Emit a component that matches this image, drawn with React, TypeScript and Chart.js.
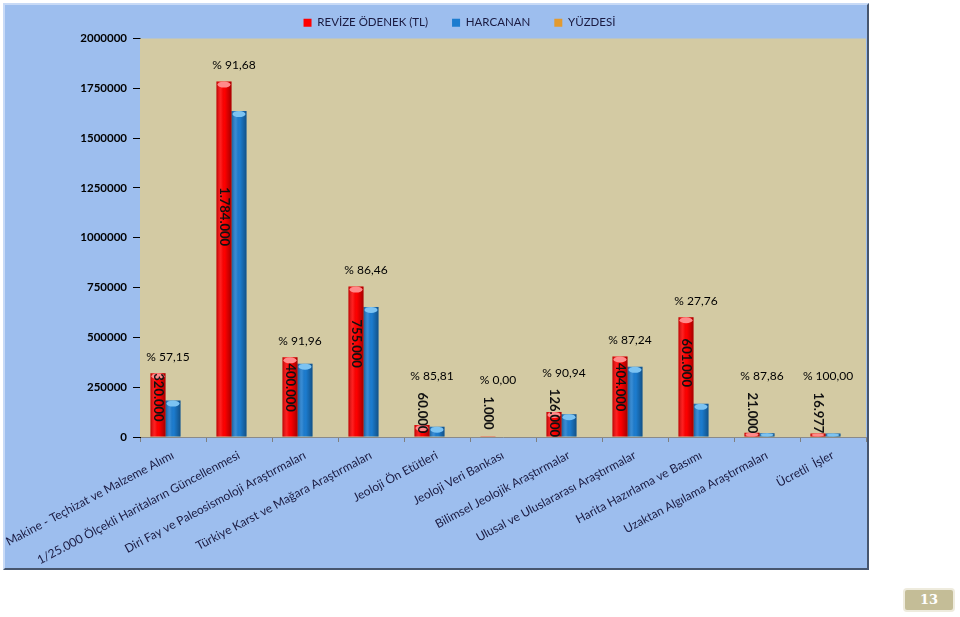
import React, { useEffect, useRef } from "react";
import { Chart, registerables } from "chart.js";

Chart.register(...registerables);

const categories = [
  "Makine - Teçhizat ve Malzeme Alımı",
  "1/25.000 Ölçekli Haritaların Güncellenmesi",
  "Diri Fay ve Paleosismoloji Araştırmaları",
  "Türkiye Karst ve Mağara Araştırmaları",
  "Jeoloji Ön Etütleri",
  "Jeoloji Veri Bankası",
  "Bilimsel Jeolojik Araştırmalar",
  "Ulusal ve Uluslararası Araştırmalar",
  "Harita Hazırlama ve Basımı",
  "Uzaktan Algılama Araştırmaları",
  "Ücretli  İşler",
];
const revizeOdenek = [320000, 1784000, 400000, 755000, 60000, 1000, 126000, 404000, 601000, 21000, 16977];
const harcanan = [182880, 1635571, 367840, 652773, 51486, 0, 114584, 352450, 166838, 18450, 16977];
const yuzdesi = [57.15, 91.68, 91.96, 86.46, 85.81, 0.0, 90.94, 87.24, 27.76, 87.86, 100.0];
const seriesNames = ["REVİZE ÖDENEK (TL)", "HARCANAN", "YÜZDESİ"];
const seriesColors = ["#FF0000", "#1C7CCF", "#E39A2F"];
const yMin = 0;
const yMax = 2000000;
const yStep = 250000;

const FONT = "Lato, 'Open Sans', 'Liberation Sans', sans-serif";

function fmtThousands(v: number): string {
  const s = Math.round(v).toString();
  return s.replace(/\B(?=(\d{3})+(?!\d))/g, ".");
}
function fmtPct(v: number): string {
  return "% " + v.toFixed(2).replace(".", ",");
}

const decorPlugin = {
  id: "decor",
  afterLayout(chart: any) {
    const lg = chart.legend;
    if (lg) {
      lg.left += 24;
      lg.right += 24;
    }
  },
  beforeDatasetsDraw(chart: any) {
    const { ctx, chartArea } = chart;
    ctx.save();
    ctx.fillStyle = "#D3CAA3";
    ctx.fillRect(chartArea.left, chartArea.top, chartArea.right - chartArea.left, chartArea.bottom - chartArea.top);
    ctx.restore();
  },
  afterDatasetsDraw(chart: any) {
    const { ctx } = chart;
    const yScale = chart.scales.y;
    const xScale = chart.scales.x;
    const axisY = yScale.getPixelForValue(0);
    ctx.save();
    const caps = ["#FF8A8A", "#7CC3F2"];
    [0, 1].forEach((di) => {
      const meta = chart.getDatasetMeta(di);
      meta.data.forEach((bar: any) => {
        const w = bar.width;
        const l = bar.x - w / 2;
        const top = Math.min(bar.y, bar.base);
        const h = Math.abs(bar.base - bar.y);
        if (h < 0.5) return;
        const g = ctx.createLinearGradient(l, 0, l + w, 0);
        g.addColorStop(0, "rgba(0,0,0,0.28)");
        g.addColorStop(0.3, "rgba(255,255,255,0.12)");
        g.addColorStop(0.55, "rgba(0,0,0,0)");
        g.addColorStop(1, "rgba(0,0,0,0.35)");
        ctx.fillStyle = g;
        ctx.fillRect(l, top, w, h);
        const ch = Math.min(3, h / 2);
        ctx.fillStyle = caps[di];
        ctx.beginPath();
        ctx.ellipse(bar.x, top + ch, w / 2 - 1, ch, 0, 0, Math.PI * 2);
        ctx.fill();
      });
    });

    const redMeta = chart.getDatasetMeta(0);
    ctx.textAlign = "center";
    ctx.textBaseline = "middle";
    redMeta.data.forEach((bar: any, i: number) => {
      const top = bar.y;
      const txt = fmtThousands(revizeOdenek[i]);
      ctx.font = "bold 13px " + FONT;
      const len = ctx.measureText(txt).width;
      const cy = Math.min(axisY - 24, top + (axisY - top) * 0.38);
      ctx.save();
      ctx.translate(bar.x, cy);
      ctx.rotate(Math.PI / 2);
      ctx.fillStyle = "#111111";
      ctx.fillText(txt, 0, 0);
      ctx.restore();
      const labelTop = cy - len / 2;
      const py = Math.min(top, labelTop) - 16;
      const px = xScale.getPixelForValue(i) - 5;
      ctx.font = "12px " + FONT;
      ctx.fillStyle = "#000000";
      ctx.fillText(fmtPct(yuzdesi[i]), px, py);
    });
    ctx.restore();
  },
};

export default function App() {
  const ref = useRef<HTMLCanvasElement | null>(null);
  useEffect(() => {
    if (!ref.current) return;
    const chart = new Chart(ref.current, {
      type: "bar",
      data: {
        labels: categories,
        datasets: [
          { label: seriesNames[0], data: revizeOdenek, backgroundColor: seriesColors[0], borderWidth: 0 },
          { label: seriesNames[1], data: harcanan, backgroundColor: seriesColors[1], borderWidth: 0 },
          { label: seriesNames[2], data: yuzdesi, backgroundColor: "rgba(0,0,0,0)", borderWidth: 0 },
        ],
      },
      options: {
        responsive: false,
        animation: false,
        devicePixelRatio: 1,
        layout: { padding: { top: -12, left: 0, right: 1, bottom: 0 } },
        datasets: { bar: { categoryPercentage: 45 / 66, barPercentage: 1 } },
        plugins: {
          tooltip: { enabled: false },
          legend: {
            position: "top",
            align: "center",
            labels: {
              boxWidth: 8,
              boxHeight: 8,
              padding: 24,
              color: "#1a1a40",
              font: { family: FONT, size: 11.5 },
              generateLabels: (chart: any) =>
                chart.data.datasets.map((ds: any, i: number) => ({
                  text: ds.label,
                  fillStyle: seriesColors[i],
                  strokeStyle: seriesColors[i],
                  lineWidth: 0,
                  hidden: false,
                  datasetIndex: i,
                  fontColor: "#1a1a40",
                })),
            },
          },
        },
        scales: {
          x: {
            offset: true,
            grid: { display: true, drawOnChartArea: false, drawTicks: true, tickLength: 5, color: "#7f7f7f", offset: true },
            border: { display: true, color: "#8a8a8a", width: 1 },
            ticks: {
              maxRotation: 28,
              minRotation: 28,
              autoSkip: false,
              padding: 6,
              color: "#1a1a40",
              font: { family: FONT, size: 12 },
            },
            afterFit(scale: any) {
              scale.height = 131;
              scale.paddingLeft = 0;
              scale.paddingRight = 0;
            },
          },
          y: {
            min: yMin,
            max: yMax,
            ticks: {
              stepSize: yStep,
              padding: 6,
              color: "#000000",
              font: { family: FONT, size: 11.5, weight: "bold" },
              callback: (v: any) => String(v),
            },
            grid: { display: true, drawOnChartArea: false, drawTicks: true, tickLength: 7, color: "#000000" },
            border: { display: true, color: "#000000", width: 1 },
            afterFit(scale: any) {
              scale.width = 135;
              scale.paddingTop = 0;
              scale.paddingBottom = 0;
            },
          },
        },
      },
      plugins: [decorPlugin],
    } as any);
    return () => chart.destroy();
  }, []);

  return (
    <div style={{ position: "fixed", left: 0, top: 0, width: 960, height: 617, background: "#ffffff" }}>
      <div
        style={{
          position: "absolute",
          left: 3,
          top: 3,
          width: 866,
          height: 567,
          boxSizing: "border-box",
          background: "#9DBEEE",
          borderStyle: "solid",
          borderWidth: 2,
          borderColor: "#C8DAF6 #47566E #47566E #C8DAF6",
        }}
      >
        <canvas ref={ref} width={862} height={563} style={{ display: "block", width: 862, height: 563 }} />
      </div>
      <div
        style={{
          position: "absolute",
          left: 903,
          top: 588,
          width: 52,
          height: 24,
          boxSizing: "border-box",
          background: "#C4BD97",
          border: "2px solid #EEEBDD",
          borderRadius: 4,
          color: "#ffffff",
          fontFamily: "'DejaVu Serif', 'Liberation Serif', serif",
          fontWeight: "bold",
          fontSize: 13,
          lineHeight: "20px",
          textAlign: "center",
        }}
      >
        13
      </div>
    </div>
  );
}
